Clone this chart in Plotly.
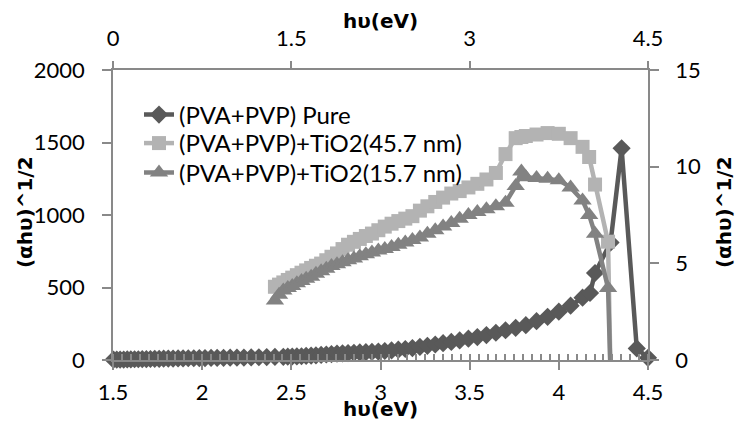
import plotly.graph_objects as go

# ---- data ----
pure_x = [1.503, 1.521, 1.540, 1.560, 1.580, 1.600, 1.621, 1.642, 1.664, 1.687,
          1.710, 1.734, 1.759, 1.784, 1.810, 1.837, 1.865, 1.893, 1.922, 1.953,
          1.984, 2.016, 2.050, 2.084, 2.120, 2.157, 2.195, 2.234, 2.275, 2.318,
          2.362, 2.408, 2.455, 2.480, 2.505, 2.531, 2.557, 2.583, 2.611, 2.638,
          2.667, 2.696, 2.725, 2.756, 2.787, 2.818, 2.851, 2.884, 2.918, 2.952,
          2.988, 3.024, 3.062, 3.100, 3.139, 3.179, 3.221, 3.263, 3.307, 3.351,
          3.397, 3.444, 3.493, 3.543, 3.594, 3.647, 3.701, 3.758, 3.815, 3.875,
          3.937, 4.000, 4.066, 4.133, 4.175, 4.203, 4.290, 4.352, 4.437, 4.500]
pure_y = [2, 2, 3, 3, 4, 4, 5, 5, 6, 6,
          7, 8, 8, 9, 10, 10, 11, 11, 12, 12,
          13, 13, 14, 14, 15, 16, 16, 17, 18, 19,
          20, 21, 22, 23, 24, 25, 26, 28, 30, 32,
          35, 38, 41, 44, 46, 48, 50, 52, 54, 56,
          58, 62, 66, 71, 76, 82, 90, 98, 107, 116,
          125, 135, 147, 158, 172, 188, 205, 222, 240, 268,
          298, 333, 375, 430, 462, 600, 810, 1460, 80, 15]

tio2_x = [2.408, 2.431, 2.455, 2.480, 2.505, 2.531, 2.557, 2.583, 2.611, 2.638,
          2.667, 2.696, 2.725, 2.756, 2.787, 2.818, 2.851, 2.884, 2.918, 2.952,
          2.988, 3.024, 3.062, 3.100, 3.139, 3.179, 3.221, 3.263, 3.307, 3.351,
          3.397, 3.444, 3.493, 3.543, 3.594, 3.647, 3.701, 3.758, 3.790, 3.815,
          3.875, 3.937, 4.000, 4.066, 4.133, 4.170, 4.203, 4.276, 4.290]
tio2_457_y = [505, 520, 535, 552, 568, 585, 602, 618, 635, 650,
              665, 688, 712, 735, 765, 795, 815, 835, 855, 872,
              895, 920, 940, 958, 975, 992, 1030, 1060, 1090, 1120,
              1148, 1165, 1190, 1215, 1245, 1290, 1420, 1530, 1538, 1545,
              1555, 1565, 1560, 1530, 1470, 1400, 1210, 816, -100]
tio2_157_y = [410, 450, 480, 497, 510, 530, 545, 560, 575, 595,
              612, 630, 648, 660, 675, 688, 700, 715, 730, 742,
              755, 765, 780, 795, 810, 828, 845, 870, 895, 920,
              945, 975, 1000, 1020, 1040, 1060, 1085, 1200, 1300, 1260,
              1255, 1250, 1240, 1190, 1100, 1000, 870, 497, -100]

series_names = ["(PVA+PVP) Pure", "(PVA+PVP)+TiO2(45.7 nm)", "(PVA+PVP)+TiO2(15.7 nm)"]
bottom_ticks = [1.5, 2, 2.5, 3, 3.5, 4, 4.5]
bottom_labels = ["1.5", "2", "2.5", "3", "3.5", "4", "4.5"]
top_ticks = [0, 1.5, 3, 4.5]
top_labels = ["0", "1.5", "3", "4.5"]
left_ticks = [0, 500, 1000, 1500, 2000]
right_ticks = [0, 5, 10, 15]

FONT = "Lato"
TFONT = "DejaVu Sans"
AX = "#898989"

fig = go.Figure()
fig.add_trace(go.Scatter(x=pure_x, y=pure_y, name=series_names[0], mode="lines+markers",
                         line=dict(color="#595959", width=4.5),
                         marker=dict(symbol="diamond", size=14, color="#595959"),
                         cliponaxis=False, legend="legend"))
fig.add_trace(go.Scatter(x=tio2_x, y=tio2_457_y, name=series_names[1], mode="lines+markers",
                         line=dict(color="#b3b3b3", width=4.5),
                         marker=dict(symbol="square", size=14, color="#b3b3b3"),
                         legend="legend2"))
fig.add_trace(go.Scatter(x=tio2_x, y=tio2_157_y, name=series_names[2], mode="lines+markers",
                         line=dict(color="#828282", width=4.5),
                         marker=dict(symbol="triangle-up", size=16, color="#828282"),
                         legend="legend3"))
# carrier for the secondary (top / right) axes, draws nothing
fig.add_trace(go.Scatter(x=[None], y=[None], xaxis="x2", yaxis="y2", mode="markers",
                         showlegend=False, hoverinfo="skip"))

tickfont = dict(family=FONT, size=22, color="#000000")
legfont = dict(family=FONT, size=24, color="#000000")
leg_common = dict(x=0.0486, xanchor="left", yanchor="middle", font=legfont,
                  bgcolor="rgba(0,0,0,0)", itemwidth=30)
fig.update_layout(
    width=735, height=427,
    margin=dict(l=113, r=87, t=70, b=67),
    paper_bgcolor="white", plot_bgcolor="white",
    font=dict(family=FONT, color="#000000"),
    showlegend=True,
    legend=dict(y=0.845, **leg_common),
    legend2=dict(y=0.7466, **leg_common),
    legend3=dict(y=0.645, **leg_common),
    xaxis=dict(range=[1.5, 4.5], tickvals=bottom_ticks, ticktext=bottom_labels,
               showgrid=False, zeroline=False, showline=True, linecolor=AX, linewidth=1.5,
               ticks="outside", ticklen=8, tickwidth=1.5, tickcolor=AX,
               tickfont=tickfont, ticklabelstandoff=4,
               minor=dict(ticks="inside", dtick=0.05, tick0=1.5, ticklen=6,
                          tickwidth=1.5, tickcolor=AX, showgrid=False)),
    yaxis=dict(range=[0, 2000], tickvals=left_ticks,
               showgrid=False, zeroline=False, showline=True, linecolor=AX, linewidth=1.5,
               ticks="outside", ticklen=9, tickwidth=1.5, tickcolor=AX,
               tickfont=tickfont, ticklabelstandoff=13),
    xaxis2=dict(range=[0, 4.5], tickvals=top_ticks, ticktext=top_labels,
                overlaying="x", side="top", anchor="y",
                showgrid=False, zeroline=False, showline=True, linecolor=AX, linewidth=1.5,
                ticks="outside", ticklen=7, tickwidth=1.5, tickcolor=AX,
                tickfont=tickfont, ticklabelstandoff=6),
    yaxis2=dict(range=[0, 15], tickvals=right_ticks,
                overlaying="y", side="right", anchor="x",
                showgrid=False, zeroline=False, showline=True, linecolor=AX, linewidth=1.5,
                ticks="outside", ticklen=9, tickwidth=1.5, tickcolor=AX,
                tickfont=tickfont, ticklabelstandoff=12),
)

title_font = dict(family=TFONT, size=20, color="#000000", weight="bold")
fig.add_annotation(text="hυ(eV)", xref="paper", yref="paper", x=0.5, y=-0.169,
                   xanchor="center", yanchor="middle", showarrow=False, font=title_font)
fig.add_annotation(text="hυ(eV)", xref="paper", yref="paper", x=0.5, y=1.169,
                   xanchor="center", yanchor="middle", showarrow=False, font=title_font)
fig.add_annotation(text="(αhυ)^1/2", xref="paper", yref="paper", x=-0.1645, y=0.51,
                   xanchor="center", yanchor="middle", textangle=-90, showarrow=False,
                   font=title_font)
fig.add_annotation(text="(αhυ)^1/2", xref="paper", yref="paper", x=1.142, y=0.51,
                   xanchor="center", yanchor="middle", textangle=-90, showarrow=False,
                   font=title_font)

fig.write_html("out.html", config={"displayModeBar": False},
               post_script="document.body.style.margin='0';")
